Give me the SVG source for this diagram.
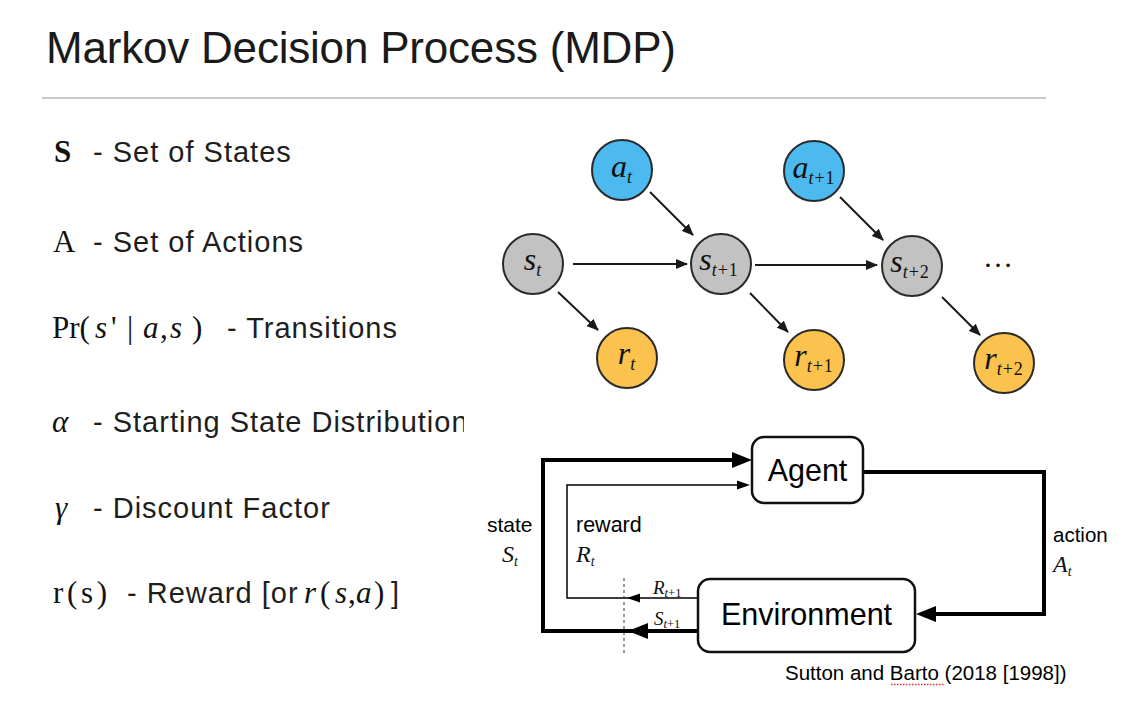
<svg xmlns="http://www.w3.org/2000/svg" width="1124" height="710" viewBox="0 0 1124 710">
<style>
.sans{font-family:"Liberation Sans",Arial,Helvetica,sans-serif;fill:#1e1e1e}
.lbl{font-size:29px;letter-spacing:1px}
.serif{font-family:"Liberation Serif","Times New Roman",serif;fill:#111}
.it{font-style:italic}
.up{font-style:normal}
.sub{font-size:18px;letter-spacing:1px}
.node{stroke:#2a2a2a;stroke-width:2}
.blue{fill:#4cb9ef}
.gray{fill:#c2c2c2}
.orange{fill:#fbc24d}
.edge{stroke:#1a1a1a;stroke-width:2;fill:none}
.thick{stroke:#000;stroke-width:4;fill:none}
.thin{stroke:#000;stroke-width:1.5;fill:none}
.box{fill:#fff;stroke:#111;stroke-width:2.5}
</style>
<defs>
<marker id="ah" markerUnits="userSpaceOnUse" markerWidth="12" markerHeight="10" refX="11" refY="5" orient="auto"><path d="M0,0 L12,5 L0,10 z" fill="#1a1a1a"/></marker>
<marker id="big" markerUnits="userSpaceOnUse" markerWidth="20" markerHeight="16" refX="1" refY="8" orient="auto"><path d="M0,0 L20,8 L0,16 z" fill="#000"/></marker>
<marker id="small" markerUnits="userSpaceOnUse" markerWidth="13" markerHeight="10" refX="1" refY="5" orient="auto"><path d="M0,0.5 L13,5 L0,9.5 z" fill="#000"/></marker>
<clipPath id="clipL"><rect x="0" y="395" width="464" height="55"/></clipPath>
</defs>
<rect width="1124" height="710" fill="#fff"/>

<g id="title">
<text class="sans" x="46" y="63" font-size="44" textLength="630" style="fill:#1a1a1a">Markov Decision Process (MDP)</text>
<line x1="42" y1="98" x2="1046" y2="98" stroke="#b8b8b8" stroke-width="1.5"/>
</g>

<g id="definitions">
<text class="serif" x="54" y="162" font-size="31" font-weight="bold">S</text>
<text class="sans lbl" x="93" y="162">- Set of States</text>
<text class="serif" x="53" y="252" font-size="31">A</text>
<text class="sans lbl" x="93" y="252">- Set of Actions</text>
<text class="serif" y="338" font-size="31"><tspan x="52">Pr(</tspan><tspan class="it" x="95">s</tspan><tspan x="111">'</tspan><tspan x="127">|</tspan><tspan class="it" x="143">a</tspan><tspan x="160">,</tspan><tspan class="it" x="170">s</tspan><tspan x="192">)</tspan></text>
<text class="sans lbl" x="227" y="338">- Transitions</text>
<text class="serif it" x="52" y="432" font-size="31">α</text>
<text class="sans lbl" x="93" y="432" clip-path="url(#clipL)">- Starting State Distribution</text>
<text class="serif it" x="55" y="518" font-size="31">γ</text>
<text class="sans lbl" x="93" y="518">- Discount Factor</text>
<text class="serif" x="53" y="603" font-size="31" textLength="54">r(s)</text>
<text class="sans lbl" x="127" y="603">- Reward [or</text>
<text class="serif" y="603" font-size="31"><tspan class="it" x="304">r</tspan><tspan x="320">(</tspan><tspan class="it" x="335">s</tspan><tspan x="348">,</tspan><tspan class="it" x="356">a</tspan><tspan x="374">)</tspan></text>
<text class="sans lbl" x="391" y="603">]</text>
</g>

<g id="graph-edges">
<line class="edge" x1="573" y1="264" x2="687" y2="264" marker-end="url(#ah)"/>
<line class="edge" x1="755" y1="265" x2="877" y2="265" marker-end="url(#ah)"/>
<line class="edge" x1="650" y1="192" x2="693" y2="235" marker-end="url(#ah)"/>
<line class="edge" x1="840" y1="197" x2="883" y2="240" marker-end="url(#ah)"/>
<line class="edge" x1="558" y1="292" x2="598" y2="330" marker-end="url(#ah)"/>
<line class="edge" x1="750" y1="293" x2="788" y2="332" marker-end="url(#ah)"/>
<line class="edge" x1="942" y1="297" x2="980" y2="335" marker-end="url(#ah)"/>
</g>

<g id="a_t"><circle class="node blue" cx="622" cy="170" r="30"/><text class="serif it" x="622" y="177" font-size="32" text-anchor="middle">a<tspan class="sub" dy="6">t</tspan></text></g>
<g id="a_t1"><circle class="node blue" cx="814" cy="171" r="30"/><text class="serif it" x="814" y="178" font-size="32" text-anchor="middle">a<tspan class="sub" dy="6">t</tspan><tspan class="up sub">+1</tspan></text></g>
<g id="s_t"><circle class="node gray" cx="533" cy="264" r="30"/><text class="serif it" x="533" y="270" font-size="32" text-anchor="middle">s<tspan class="sub" dy="6">t</tspan></text></g>
<g id="s_t1"><circle class="node gray" cx="721" cy="264" r="30"/><text class="serif it" x="719" y="270" font-size="32" text-anchor="middle">s<tspan class="sub" dy="6">t</tspan><tspan class="up sub">+1</tspan></text></g>
<g id="s_t2"><circle class="node gray" cx="912" cy="266" r="30"/><text class="serif it" x="910" y="272" font-size="32" text-anchor="middle">s<tspan class="sub" dy="6">t</tspan><tspan class="up sub">+2</tspan></text></g>
<g id="r_t"><circle class="node orange" cx="627" cy="358" r="30"/><text class="serif it" x="627" y="364" font-size="32" text-anchor="middle">r<tspan class="sub" dy="6">t</tspan></text></g>
<g id="r_t1"><circle class="node orange" cx="814" cy="360" r="30"/><text class="serif it" x="814" y="366" font-size="32" text-anchor="middle">r<tspan class="sub" dy="6">t</tspan><tspan class="up sub">+1</tspan></text></g>
<g id="r_t2"><circle class="node orange" cx="1004" cy="363" r="30"/><text class="serif it" x="1004" y="369" font-size="32" text-anchor="middle">r<tspan class="sub" dy="6">t</tspan><tspan class="up sub">+2</tspan></text></g>
<g id="ellipsis"><text class="serif" x="998" y="267" font-size="30" text-anchor="middle">…</text></g>

<g id="loop-connectors">
<path class="thick" d="M698,631 H543 V460 H733" marker-end="url(#big)"/>
<polygon points="628,631 648,623 648,639" fill="#000"/>
<path class="thin" d="M698,598 H567 V485 H738" marker-end="url(#small)"/>
<polygon points="627,598 640,593.5 640,602.5" fill="#000"/>
<path class="thick" d="M863,472 H1044 V614 H935" marker-end="url(#big)"/>
<line x1="624" y1="578" x2="624" y2="653" stroke="#333" stroke-width="1" stroke-dasharray="3,3"/>
</g>

<g id="agent">
<rect class="box" x="752" y="437" width="111" height="66" rx="12"/>
<text class="sans" x="807.5" y="481" font-size="30.5" text-anchor="middle" style="fill:#000">Agent</text>
</g>
<g id="environment">
<rect class="box" x="698" y="579" width="217" height="73" rx="12"/>
<text class="sans" x="806.5" y="625" font-size="30.5" text-anchor="middle" style="fill:#000">Environment</text>
</g>

<g id="loop-labels">
<text class="sans" x="487" y="532" font-size="21" style="fill:#000">state</text>
<text class="serif it" x="502" y="562" font-size="24">S<tspan font-size="14" dy="4">t</tspan></text>
<text class="sans" x="576" y="532" font-size="21.5" style="fill:#000">reward</text>
<text class="serif it" x="576" y="562" font-size="24">R<tspan font-size="14" dy="4">t</tspan></text>
<text class="sans" x="1053" y="542" font-size="20.5" style="fill:#000">action</text>
<text class="serif it" x="1053" y="572" font-size="24">A<tspan font-size="14" dy="4">t</tspan></text>
<text class="serif it" x="653" y="594" font-size="19">R<tspan font-size="12.5" dy="3">t</tspan><tspan class="up" font-size="12.5">+1</tspan></text>
<text class="serif it" x="654" y="625" font-size="19">S<tspan font-size="12.5" dy="3">t</tspan><tspan class="up" font-size="12.5">+1</tspan></text>
</g>

<g id="citation">
<text class="sans" x="785" y="680" font-size="20.5" style="fill:#000">Sutton and Barto (2018 [1998])</text>
<line x1="891" y1="684.5" x2="945" y2="684.5" stroke="#e0302a" stroke-width="1.5" stroke-dasharray="1.5,1.5"/>
</g>
</svg>
